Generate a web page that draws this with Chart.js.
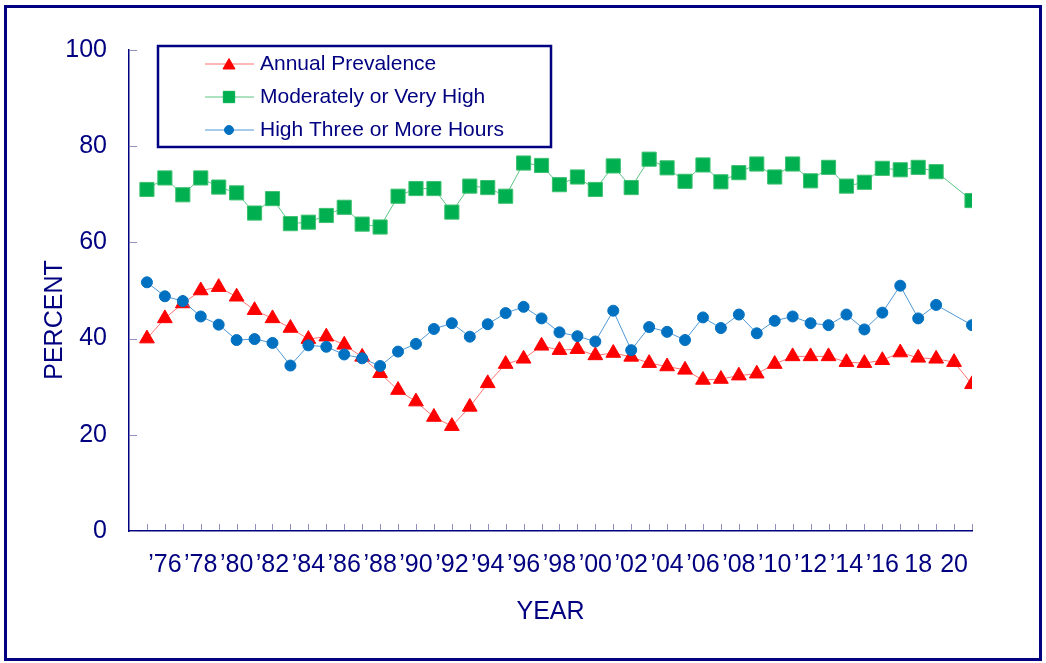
<!DOCTYPE html>
<html>
<head>
<meta charset="utf-8">
<script src="https://cdn.jsdelivr.net/npm/chart.js@4.4.0/dist/chart.umd.min.js"></script>
<style>
  html, body { margin: 0; padding: 0; background: #fff; }
</style>
</head>
<body>
<canvas id="myChart1" width="1046" height="663"></canvas>
<script>
const years = [
  1975, 1976, 1977, 1978, 1979, 1980, 1981, 1982, 1983, 1984, 1985, 1986,
  1987, 1988, 1989, 1990, 1991, 1992, 1993, 1994, 1995, 1996, 1997, 1998,
  1999, 2000, 2001, 2002, 2003, 2004, 2005, 2006, 2007, 2008, 2009, 2010,
  2011, 2012, 2013, 2014, 2015, 2016, 2017, 2018, 2019, 2020, 2021,
];

const annualPrevalence = [
  40.0, 44.2, 47.3, 50.0, 50.7, 48.7, 45.9, 44.2, 42.2, 39.9, 40.4, 38.7,
  36.2, 32.8, 29.3, 26.9, 23.7, 21.8, 25.8, 30.7, 34.7, 35.8, 38.5, 37.6,
  37.8, 36.5, 37.0, 36.2, 34.9, 34.2, 33.5, 31.4, 31.6, 32.3, 32.7, 34.7,
  36.3, 36.3, 36.3, 35.1, 34.9, 35.5, 37.1, 36.0, 35.8, 35.1, 30.5,
];

const moderatelyOrVeryHigh = [
  71.0, 73.4, 69.9, 73.4, 71.5, 70.3, 66.1, 69.1, 63.9, 64.2, 65.6, 67.3,
  63.8, 63.2, 69.6, 71.2, 71.2, 66.3, 71.7, 71.4, 69.6, 76.5, 76.0, 72.0,
  73.6, 71.0, 75.9, 71.4, 77.3, 75.5, 72.7, 76.1, 72.6, 74.5, 76.3, 73.6,
  76.3, 72.8, 75.6, 71.7, 72.5, 75.4, 75.1, 75.6, 74.7, null, 68.7,
];

const highThreeOrMoreHours = [
  51.7, 48.8, 47.8, 44.6, 42.9, 39.7, 39.9, 39.1, 34.4, 38.6, 38.3, 36.7,
  35.9, 34.3, 37.3, 38.9, 42.0, 43.2, 40.4, 43.0, 45.3, 46.6, 44.2, 41.3,
  40.5, 39.4, 45.8, 37.6, 42.4, 41.4, 39.7, 44.4, 42.2, 45.0, 41.1, 43.7,
  44.6, 43.2, 42.8, 45.0, 41.9, 45.4, 51.0, 44.2, 47.0, null, 42.8,
];

const tickYears = [
  1976, 1978, 1980, 1982, 1984, 1986, 1988, 1990, 1992, 1994, 1996, 1998,
  2000, 2002, 2004, 2006, 2008, 2010, 2012, 2014, 2016, 2018, 2020,
];
const tickLabels = [
  "’76", "’78", "’80", "’82", "’84", "’86", "’88", "’90", "’92", "’94", "’96", "’98",
  "’00", "’02", "’04", "’06", "’08", "’10", "’12", "’14", "’16", "18", "20",
];

const navy = "#000080";
const fontFamily = "'Liberation Sans', Arial, sans-serif";

function points(values) {
  return years.map((yr, i) => ({ x: yr, y: values[i] }));
}

// inward tick marks, y title, legend box and outer frame
const decorations = {
  id: "decorations",
  afterDraw(chart) {
    const { ctx, scales: { x, y } } = chart;
    ctx.save();

    ctx.strokeStyle = "#8f8fc0";
    ctx.lineWidth = 1;
    ctx.beginPath();
    y.ticks.forEach((t) => {
      const py = Math.round(y.getPixelForValue(t.value)) + 0.5;
      ctx.moveTo(x.left + 1, py);
      ctx.lineTo(x.left + 8, py);
    });
    years.forEach((yr) => {
      const px = Math.round(x.getPixelForValue(yr)) + 0.5;
      ctx.moveTo(px, y.bottom - 1);
      ctx.lineTo(px, y.bottom - 7);
    });
    ctx.stroke();

    // y axis title sits a bit below the middle of the plot
    ctx.save();
    ctx.translate(55, 320);
    ctx.rotate(-Math.PI / 2);
    ctx.font = "25px " + fontFamily;
    ctx.fillStyle = navy;
    ctx.textAlign = "center";
    ctx.textBaseline = "middle";
    ctx.fillText("PERCENT", 0, 0);
    ctx.restore();

    // legend
    ctx.strokeStyle = navy;
    ctx.lineWidth = 2.5;
    ctx.strokeRect(158, 46, 393, 101);
    ctx.font = "21px " + fontFamily;
    ctx.textBaseline = "middle";
    ctx.textAlign = "left";
    const legendSizes = [7, 8, 4.5];
    chart.data.datasets.forEach((ds, i) => {
      const cy = 64 + i * 33;
      ctx.strokeStyle = ds.borderColor;
      ctx.lineWidth = 1;
      ctx.beginPath();
      ctx.moveTo(205, cy);
      ctx.lineTo(254, cy);
      ctx.stroke();
      ctx.fillStyle = ds.pointBackgroundColor;
      ctx.strokeStyle = ds.pointBackgroundColor;
      Chart.helpers.drawPoint(ctx, {
        pointStyle: ds.pointStyle,
        radius: legendSizes[i],
        rotation: 0,
        borderWidth: 1,
      }, 229, cy + (ds.pointStyle === "triangle" ? 1.5 : 0));
      ctx.fillStyle = navy;
      ctx.fillText(ds.label, 260, cy);
    });

    ctx.strokeStyle = navy;
    ctx.lineWidth = 3;
    ctx.strokeRect(5.5, 6.5, 1035, 653);
    ctx.restore();
  },
};

const ctx = document.getElementById("myChart1");

new Chart(ctx, {
  type: "line",
  data: {
    datasets: [
      {
        label: "Annual Prevalence",
        data: points(annualPrevalence),
        borderColor: "#ff7272",
        borderWidth: 1,
        pointStyle: "triangle",
        pointRadius: 8.5,
        pointBackgroundColor: "#ff0000",
        pointBorderColor: "#ff0000",
        pointBorderWidth: 1,
        order: 1,
      },
      {
        label: "Moderately or Very High",
        data: points(moderatelyOrVeryHigh),
        borderColor: "#5cc584",
        borderWidth: 1,
        pointStyle: "rect",
        pointRadius: 10,
        pointBackgroundColor: "#00b050",
        pointBorderColor: "#3cc070",
        pointBorderWidth: 1,
        spanGaps: true,
        order: 2,
      },
      {
        label: "High Three or More Hours",
        data: points(highThreeOrMoreHours),
        borderColor: "#4f98d6",
        borderWidth: 1,
        pointStyle: "circle",
        pointRadius: 5.5,
        pointBackgroundColor: "#0070c0",
        pointBorderColor: "#0070c0",
        pointBorderWidth: 1,
        spanGaps: true,
        order: 0,
      },
    ],
  },
  options: {
    responsive: false,
    animation: false,
    events: [],
    layout: {
      padding: { left: 0, right: 74, top: 50, bottom: 0 },
    },
    plugins: {
      legend: { display: false },
      tooltip: { enabled: false },
    },
    scales: {
      x: {
        type: "linear",
        min: 1974,
        max: 2021,
        afterBuildTicks: (scale) => {
          scale.ticks = tickYears.map((v) => ({ value: v }));
        },
        afterFit: (scale) => {
          scale.height = 132;
        },
        ticks: {
          autoSkip: false,
          maxRotation: 0,
          padding: 19,
          color: navy,
          font: { size: 25, family: fontFamily },
          callback: (value) => tickLabels[tickYears.indexOf(value)] ?? "",
        },
        border: { color: navy, width: 1.5 },
        grid: { display: false, drawTicks: false, tickLength: 0 },
        title: {
          display: true,
          text: "YEAR",
          color: navy,
          font: { size: 25, family: fontFamily },
          padding: { top: 0, bottom: 36 },
        },
      },
      y: {
        min: 0,
        max: 100,
        afterFit: (scale) => {
          scale.width = 129;
        },
        ticks: {
          stepSize: 20,
          padding: 22,
          color: navy,
          font: { size: 25, family: fontFamily },
        },
        border: { color: navy, width: 1.5 },
        grid: { display: false, drawTicks: false, tickLength: 0 },
      },
    },
  },
  plugins: [decorations],
});
</script>
</body>
</html>
